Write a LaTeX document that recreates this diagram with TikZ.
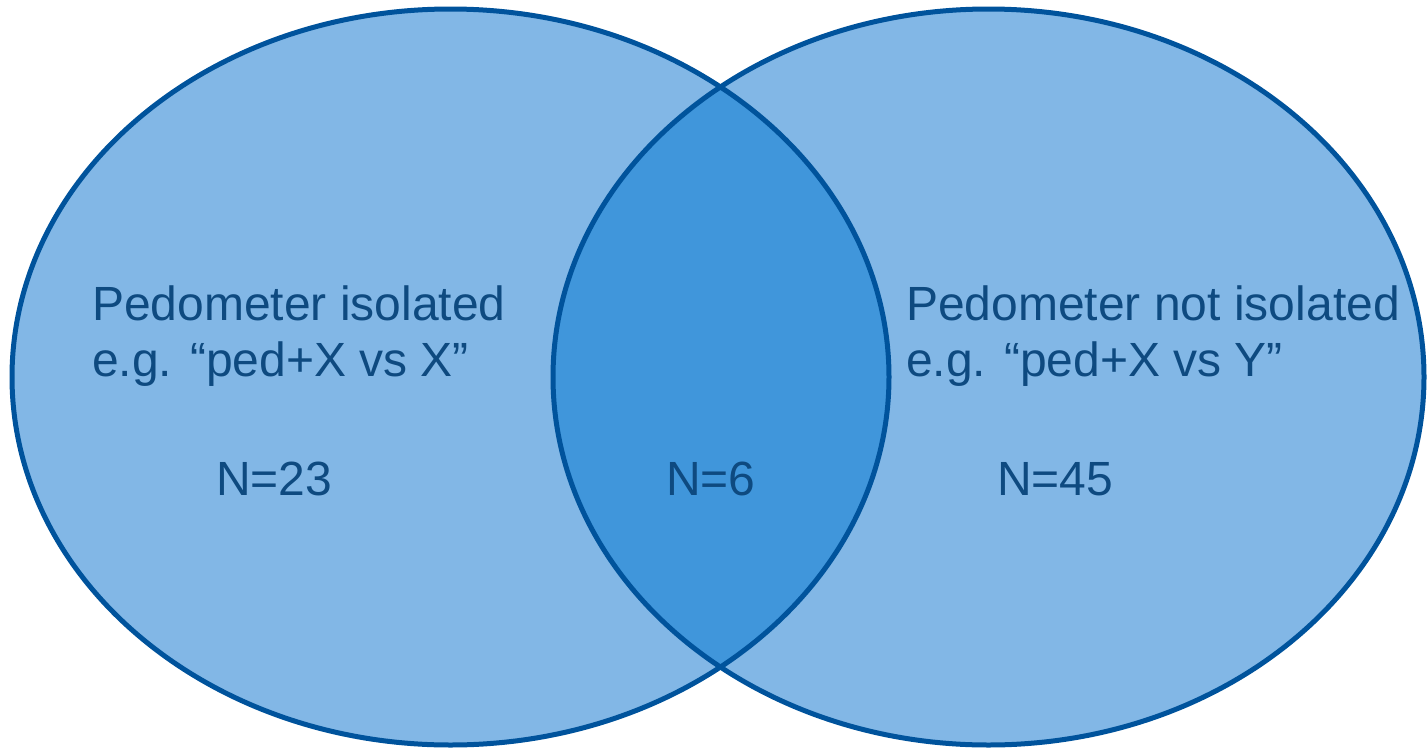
\documentclass[tikz,border=0pt]{standalone}
\usepackage{fontspec}
\setmainfont{Liberation Sans}
\definecolor{setfill}{HTML}{82B7E6}
\definecolor{lensfill}{HTML}{4096DB}
\definecolor{setline}{HTML}{00539C}
\definecolor{labeltext}{HTML}{0E4A80}
\tikzset{
  setline/.style={draw=setline, line width=5pt},
  lbl/.style={text=labeltext, anchor=base west, inner sep=0pt, font=\fontsize{48}{54}\selectfont}
}
\begin{document}
\begin{tikzpicture}[x=1pt,y=-1pt]
\useasboundingbox (0,0) rectangle (1427,750);
\def\lcx{450.5}\def\rcx{988.5}\def\cy{377}
% fills
\fill[setfill] (\lcx,\cy) ellipse [x radius=438.5, y radius=368];
\fill[setfill] (\rcx,\cy) ellipse [x radius=435.5, y radius=368];
\begin{scope}
  \clip (\lcx,\cy) ellipse [x radius=438.5, y radius=368];
  \fill[lensfill] (\rcx,\cy) ellipse [x radius=435.5, y radius=368];
\end{scope}
% outlines
\draw[setline] (\lcx,\cy) ellipse [x radius=438.5, y radius=368];
\draw[setline] (\rcx,\cy) ellipse [x radius=435.5, y radius=368];
% labels
\node[lbl] (l1) at (92,320) {Pedometer isolated};
\node[lbl] (l2) at (92,376) {e.g. “ped+X vs X”};
\node[lbl] (ln) at (216,495) {N=23};
\node[lbl] (cn) at (666,495) {N=6};
\node[lbl] (r1) at (906,320) {Pedometer not isolated};
\node[lbl] (r2) at (906,376) {e.g. “ped+X vs Y”};
\node[lbl] (rn) at (997,495) {N=45};
\end{tikzpicture}
\end{document}
